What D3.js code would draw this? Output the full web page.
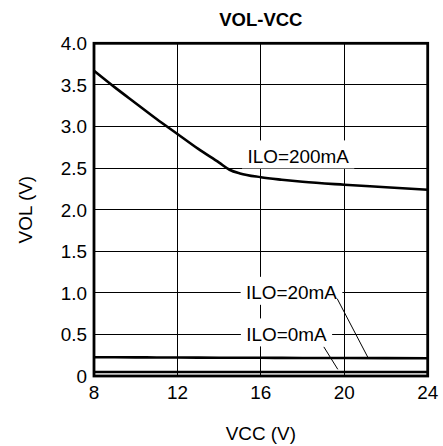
<!DOCTYPE html>
<html>
<head>
<meta charset="utf-8">
<script src="https://cdn.jsdelivr.net/npm/d3@7"></script>
<style>
  html, body { margin: 0; padding: 0; background: #fff; }
  svg { display: block; }
  text { font-family: "Liberation Sans", Arial, Helvetica, sans-serif; fill: #000; }
</style>
</head>
<body>
<svg id="chart" width="443" height="446"></svg>
<script>
// Output voltage vs supply voltage for three load currents
const vcc = [8, 9, 10, 11, 12, 13, 14, 14.5, 15, 16, 17, 18, 20, 22, 24];
const vol200mA = [3.67, 3.47, 3.28, 3.09, 2.91, 2.73, 2.565, 2.48, 2.435, 2.39, 2.36, 2.335, 2.30, 2.27, 2.24];
const vol20mA  = [0.226, 0.225, 0.224, 0.223, 0.222, 0.221, 0.220, 0.220, 0.219, 0.219, 0.218, 0.217, 0.216, 0.215, 0.214];
const vol0mA   = [0.048, 0.048, 0.048, 0.048, 0.048, 0.048, 0.048, 0.048, 0.048, 0.048, 0.048, 0.048, 0.048, 0.048, 0.048];

const xTicks = [8, 12, 16, 20, 24];
const yTicks = [0, 0.5, 1.0, 1.5, 2.0, 2.5, 3.0, 3.5, 4.0];
const yTickLabels = ["0", "0.5", "1.0", "1.5", "2.0", "2.5", "3.0", "3.5", "4.0"];

const seriesNames = ["ILO=200mA", "ILO=20mA", "ILO=0mA"];
// label centres and leader lines, in data units (VCC, VOL)
const labelAt = [[17.79, 2.64], [17.47, 1.0], [17.23, 0.5]];
const leaders = [null, [[19.66, 0.93], [21.13, 0.225]], [[19.02, 0.35], [19.69, 0.08]]];

const svg = d3.select("#chart");
const plot = { left: 94, right: 427.7, top: 43.3, bottom: 376 };

const x = d3.scaleLinear().domain([8, 24]).range([plot.left, plot.right]);
const y = d3.scaleLinear().domain([0, 4]).range([plot.bottom, plot.top]);

const SX = 1.08; // regular text is drawn slightly wide

function label(g, txt, px, py, size, anchor, weight, rotate) {
  const t = g.append("text")
    .attr("transform", `translate(${px},${py})` + (rotate ? ` rotate(${rotate})` : "") + ` scale(${SX},1)`)
    .attr("text-anchor", anchor)
    .attr("font-size", size)
    .text(txt);
  if (weight) t.attr("font-weight", weight);
  return t;
}

// grid
const grid = svg.append("g").attr("stroke", "#000").attr("stroke-width", 1).attr("shape-rendering", "crispEdges");
grid.selectAll("line.v").data(xTicks.slice(1, -1)).join("line")
  .attr("x1", d => x(d)).attr("x2", d => x(d)).attr("y1", plot.top).attr("y2", plot.bottom);
grid.selectAll("line.h").data(yTicks.slice(1, -1)).join("line")
  .attr("x1", plot.left).attr("x2", plot.right).attr("y1", d => y(d)).attr("y2", d => y(d));

// curves
const line = d3.line().x(d => x(d[0])).y(d => y(d[1])).curve(d3.curveMonotoneX);
[vol200mA, vol20mA, vol0mA].forEach(vals => {
  svg.append("path")
    .datum(vcc.map((v, i) => [v, vals[i]]))
    .attr("fill", "none").attr("stroke", "#000").attr("stroke-width", 2.6)
    .attr("d", line);
});

// series labels on white boxes
const lab = svg.append("g");
seriesNames.forEach((name, i) => {
  const cx = x(labelAt[i][0]), cy = y(labelAt[i][1]);
  const t = label(lab, name, cx, cy + 6.3, 17.5, "middle");
  const bb = t.node().getBBox();
  const w = bb.width * SX;
  lab.insert("rect", "text")
    .attr("x", cx - w / 2 - 5).attr("y", cy - 16)
    .attr("width", w + 10).attr("height", 28)
    .attr("fill", "#fff");
  if (leaders[i]) {
    svg.append("line")
      .attr("x1", x(leaders[i][0][0])).attr("y1", y(leaders[i][0][1]))
      .attr("x2", x(leaders[i][1][0])).attr("y2", y(leaders[i][1][1]))
      .attr("stroke", "#000").attr("stroke-width", 1);
  }
});

// frame
svg.append("rect")
  .attr("x", plot.left).attr("y", plot.top)
  .attr("width", plot.right - plot.left).attr("height", plot.bottom - plot.top)
  .attr("fill", "none").attr("stroke", "#000").attr("stroke-width", 2.8);

// axes text
const axes = svg.append("g");
yTicks.forEach((v, i) => label(axes, yTickLabels[i], 87, y(v) + 7, 17.5, "end"));
xTicks.forEach(v => label(axes, String(v), x(v), 398.5, 17.5, "middle"));
label(axes, "VCC (V)", (plot.left + plot.right) / 2, 440, 17.5, "middle");
label(axes, "VOL (V)", 32, (plot.top + plot.bottom) / 2, 17.5, "middle", null, -90);

svg.append("text")
  .attr("x", (plot.left + plot.right) / 2).attr("y", 26)
  .attr("text-anchor", "middle").attr("font-size", 18.5).attr("font-weight", "bold")
  .text("VOL-VCC");
</script>
</body>
</html>
